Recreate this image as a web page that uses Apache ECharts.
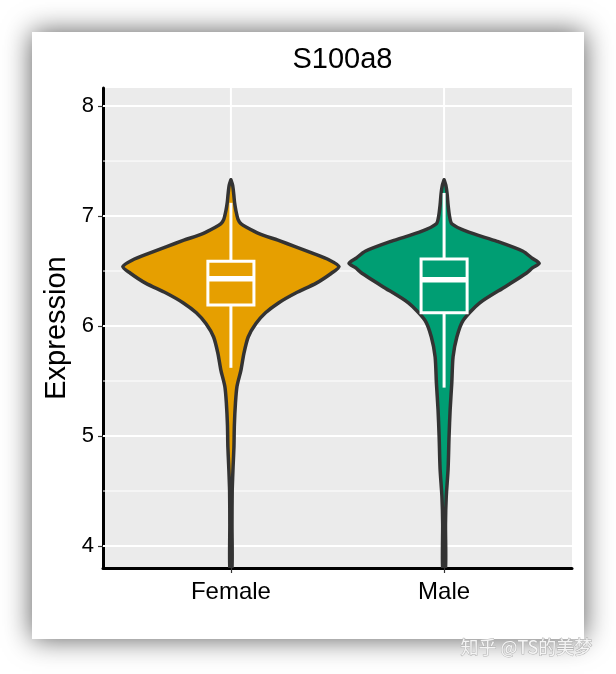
<!DOCTYPE html>
<html>
<head>
<meta charset="utf-8">
<script src="https://cdn.jsdelivr.net/npm/echarts@6/dist/echarts.min.js"></script>
<style>html,body{margin:0;padding:0;background:#fff}#c{width:616px;height:674px}</style>
</head>
<body>
<div id="c"></div>
<script>
// ---- data ----
const chartTitle = 'S100a8';
const yAxisTitle = 'Expression';
const categories = ['Female', 'Male'];
const yTicks = [4, 5, 6, 7, 8];
const yMinorTicks = [4.5, 5.5, 6.5, 7.5];
const watermark = '知乎 @TS的美梦';

// violin profiles: expression value (descending) and relative density
const femaleY = [7.33, 7.28, 7.20, 7.12, 7.05, 6.97, 6.93, 6.90, 6.84, 6.78, 6.72, 6.66, 6.60, 6.54, 6.48, 6.39, 6.30, 6.21, 6.12, 6.02, 5.90, 5.75, 5.60, 5.45, 5.30, 5.10, 4.90, 4.72, 4.50, 4.20, 3.80];
const femaleDensity = [0, 0.016, 0.026, 0.034, 0.046, 0.066, 0.093, 0.14, 0.26, 0.435, 0.60, 0.76, 0.91, 1.0, 0.93, 0.79, 0.60, 0.44, 0.32, 0.23, 0.16, 0.12, 0.093, 0.056, 0.042, 0.032, 0.028, 0.02, 0.012, 0.01, 0.01];
const maleY = [7.33, 7.28, 7.20, 7.10, 7.00, 6.93, 6.86, 6.77, 6.68, 6.62, 6.57, 6.53, 6.48, 6.36, 6.21, 6.05, 5.90, 5.72, 5.48, 5.24, 5.00, 4.70, 4.45, 4.20, 3.80];
const maleDensity = [0, 0.016, 0.028, 0.037, 0.05, 0.071, 0.21, 0.49, 0.73, 0.81, 0.88, 0.82, 0.76, 0.57, 0.33, 0.176, 0.118, 0.083, 0.071, 0.056, 0.046, 0.037, 0.02, 0.013, 0.013];

// box stats: [lower whisker, Q1, median, Q3, upper whisker]
const femaleBox = [5.62, 6.19, 6.43, 6.59, 7.12];
const maleBox = [5.44, 6.12, 6.42, 6.61, 7.21];

const fillColors = ['#E69F00', '#009E73'];

// ---- chart ----
const groups = [
  { y: femaleY, d: femaleDensity, box: femaleBox },
  { y: maleY, d: maleDensity, box: maleBox }
];
const maxHalfWidth = 0.507;   // in category units
const boxHalfWidth = 0.108;
const FONT = 'Liberation Sans, Arial, Helvetica, sans-serif';

const chart = echarts.init(document.getElementById('c'), null, { renderer: 'canvas' });

function gridLinesRender(params, api) {
  const children = [];
  const x0 = 0.4, x1 = 2.6, y0 = 3.8, y1 = 8.164;
  yMinorTicks.forEach(v => {
    const a = api.coord([x0, v]), b = api.coord([x1, v]);
    children.push({ type: 'line', shape: { x1: a[0], y1: a[1], x2: b[0], y2: b[1] }, style: { stroke: '#fff', lineWidth: 1 } });
  });
  yTicks.forEach(v => {
    const a = api.coord([x0, v]), b = api.coord([x1, v]);
    children.push({ type: 'line', shape: { x1: a[0], y1: a[1], x2: b[0], y2: b[1] }, style: { stroke: '#fff', lineWidth: 2 } });
  });
  categories.forEach((c, i) => {
    const a = api.coord([i + 1, y0]), b = api.coord([i + 1, y1]);
    children.push({ type: 'line', shape: { x1: a[0], y1: a[1], x2: b[0], y2: b[1] }, style: { stroke: '#fff', lineWidth: 2 } });
  });
  return { type: 'group', children };
}

function violinRender(params, api) {
  const i = params.dataIndex;
  const cx = api.value(0);
  const g = groups[i];
  const left = [], right = [];
  for (let k = 0; k < g.y.length; k++) {
    const hw = g.d[k] * maxHalfWidth;
    left.push(api.coord([cx - hw, g.y[k]]));
    right.push(api.coord([cx + hw, g.y[k]]));
  }
  const pts = left.concat(right.reverse());
  const b = g.box;
  const P = (x, y) => api.coord([x, y]);
  const tl = P(cx - boxHalfWidth, b[3]);
  const br = P(cx + boxHalfWidth, b[1]);
  const wTop = P(cx, b[4]), q3 = P(cx, b[3]), q1 = P(cx, b[1]), wBot = P(cx, b[0]);
  const mL = P(cx - boxHalfWidth, b[2]), mR = P(cx + boxHalfWidth, b[2]);
  const white = { stroke: '#fff', lineWidth: 3, fill: null };
  return {
    type: 'group',
    children: [
      { type: 'polygon', shape: { points: pts, smooth: 0.25 }, style: { fill: fillColors[i], stroke: '#333', lineWidth: 3.5, lineJoin: 'round' } },
      { type: 'line', shape: { x1: wTop[0], y1: wTop[1], x2: q3[0], y2: q3[1] }, style: white },
      { type: 'line', shape: { x1: q1[0], y1: q1[1], x2: wBot[0], y2: wBot[1] }, style: white },
      { type: 'rect', shape: { x: tl[0], y: tl[1], width: br[0] - tl[0], height: br[1] - tl[1] }, style: white },
      { type: 'line', shape: { x1: mL[0], y1: mL[1], x2: mR[0], y2: mR[1] }, style: { stroke: '#fff', lineWidth: 5.5 } }
    ]
  };
}

const option = {
  animation: false,
  backgroundColor: 'transparent',
  title: {
    text: chartTitle,
    left: 337.5,
    top: 40,
    textAlign: 'center',
    textStyle: { fontFamily: FONT, fontSize: 29, fontWeight: 'normal', color: '#000' }
  },
  graphic: [
    {
      type: 'rect', z: -100, silent: true,
      shape: { x: 32, y: 32, width: 552, height: 607 },
      style: { fill: '#fff', shadowBlur: 26, shadowColor: 'rgba(0,0,0,0.65)', shadowOffsetX: 0, shadowOffsetY: 0 }
    },
    {
      type: 'text', z: 100, silent: true,
      left: 460, top: 638,
      style: { text: watermark, fontFamily: 'Noto Sans CJK SC, sans-serif', fontSize: 18, fill: '#f4f4f4', stroke: '#b0b0b0', lineWidth: 1 }
    }
  ],
  grid: {
    left: 103, right: 44, top: 88, bottom: 106,
    show: true, backgroundColor: '#EBEBEB', borderWidth: 0
  },
  xAxis: {
    type: 'value', min: 0.4, max: 2.6,
    axisLine: { show: true, onZero: false, lineStyle: { color: '#000', width: 3 } },
    axisTick: { show: true, customValues: [1, 2], length: 5, lineStyle: { color: '#333', width: 1.2 } },
    axisLabel: {
      customValues: [1, 2], margin: 12,
      formatter: v => categories[Math.round(v) - 1],
      fontFamily: FONT, fontSize: 24, color: '#000'
    },
    splitLine: { show: false }
  },
  yAxis: {
    type: 'value', min: 3.8, max: 8.164,
    name: yAxisTitle, nameLocation: 'middle', nameGap: 32, nameMoveOverlap: false,
    nameTextStyle: { fontFamily: FONT, fontSize: 29, color: '#000' },
    axisLine: { show: true, onZero: false, lineStyle: { color: '#000', width: 3 } },
    axisTick: { show: true, customValues: yTicks, length: 5, lineStyle: { color: '#333', width: 1.2 } },
    axisLabel: { customValues: yTicks, margin: 9, fontFamily: FONT, fontSize: 22, color: '#000' },
    splitLine: { show: false }
  },
  series: [
    { type: 'custom', z: 1, silent: true, renderItem: gridLinesRender, data: [[1, 6]], encode: { x: 0, y: 1 } },
    { type: 'custom', z: 2, silent: true, clip: true, renderItem: violinRender, data: categories.map((c, i) => [i + 1, 6]), encode: { x: 0, y: 1 } }
  ]
};
chart.setOption(option);
</script>
</body>
</html>
